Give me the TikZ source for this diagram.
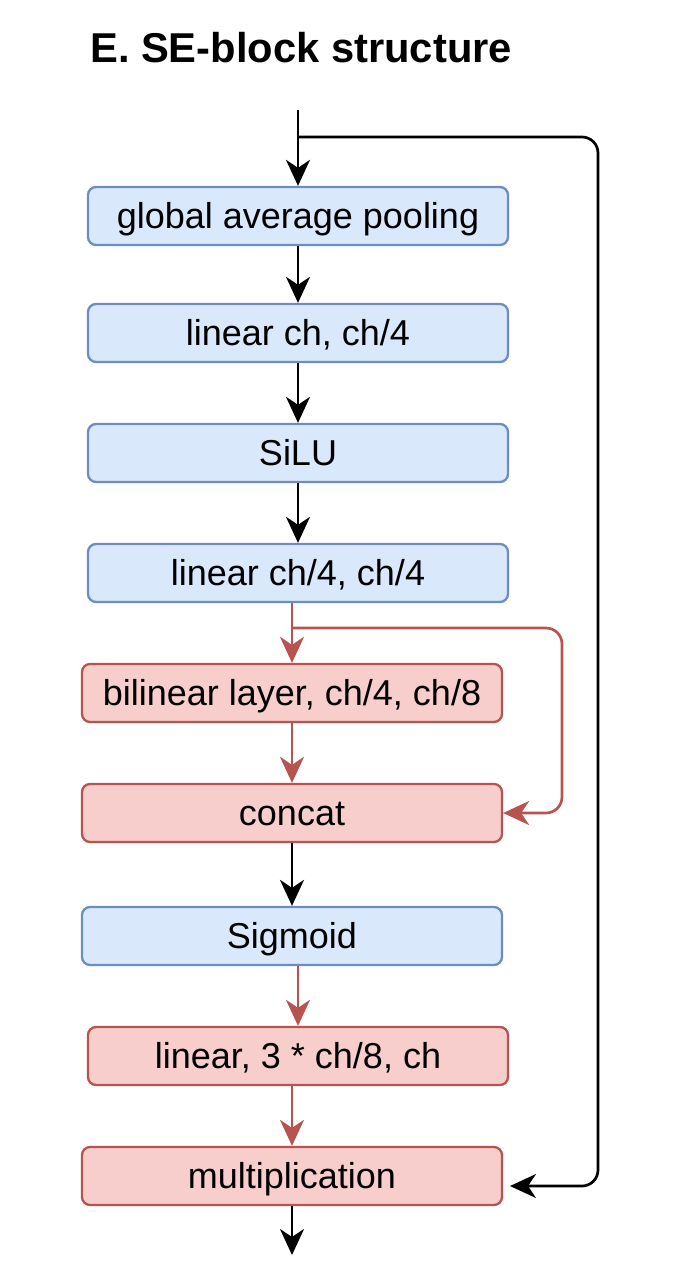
\documentclass[tikz,border=0pt]{standalone}
\usepackage{fontspec}
\setmainfont{Liberation Sans}
\usetikzlibrary{arrows.meta}
\definecolor{bfill}{HTML}{DAE8FC}
\definecolor{bstroke}{HTML}{6C8EBF}
\definecolor{rfill}{HTML}{F8CECC}
\definecolor{rstroke}{HTML}{B85450}
\begin{document}
\begin{tikzpicture}[x=1pt,y=-1pt,
  blk/.style={draw=bstroke, fill=bfill, line width=2.3pt, rounded corners=8pt,
    minimum width=420pt, minimum height=58pt, inner sep=0pt,
    font=\fontsize{36}{43}\selectfont, text height=31pt, text depth=6pt},
  rblk/.style={blk, draw=rstroke, fill=rfill},
  tip/.style={-{Stealth[length=26pt,width=24pt,inset=8pt]}},
  arr/.style={line width=2.7pt, draw=black, tip},
  rarr/.style={line width=2.7pt, draw=rstroke, tip},
  ]
\useasboundingbox (0,0) rectangle (681,1277);
\node[anchor=base west, font=\bfseries\fontsize{41.7}{50}\selectfont, inner sep=0pt] (title) at (90,62) {E. SE-block structure};

\node[blk]  (n1) at (298,216)  {global average pooling};
\node[blk]  (n2) at (298,333)  {linear ch, ch/4};
\node[blk]  (n3) at (298,453)  {SiLU};
\node[blk]  (n4) at (298,573)  {linear ch/4, ch/4};
\node[rblk] (n5) at (292,693)  {bilinear layer, ch/4, ch/8};
\node[rblk] (n6) at (292,813)  {concat};
\node[blk]  (n7) at (292,936)  {Sigmoid};
\node[rblk] (n8) at (298,1056) {linear, 3 * ch/8, ch};
\node[rblk] (n9) at (292,1176) {multiplication};

\coordinate (in) at (298,110);
\coordinate (split) at (298,137);
\coordinate (skipin) at (510,1186);
\coordinate (rsplit) at (292,628);
\coordinate (out) at (292,1255);

\draw[arr] (in) -- (n1.north);
\draw[arr] (n1) -- (n2);
\draw[arr] (n2) -- (n3);
\draw[arr] (n3) -- (n4);
\draw[rarr] (n4.south -| n5.north) -- (n5.north);
\draw[rarr] (n5) -- (n6);
\draw[rarr, rounded corners=16pt] (rsplit) -- (562,628) -- (562,813) -- (n6.east);
\draw[arr] (n6) -- (n7);
\draw[rarr] (n7.south -| n8.north) -- (n8.north);
\draw[rarr] (n8.south -| n9.north) -- (n9.north);
\draw[arr, rounded corners=16pt] (split) -- (598,137) -- (598,1186) -- (skipin);
\draw[arr] (n9.south) -- (out);
\end{tikzpicture}
\end{document}
